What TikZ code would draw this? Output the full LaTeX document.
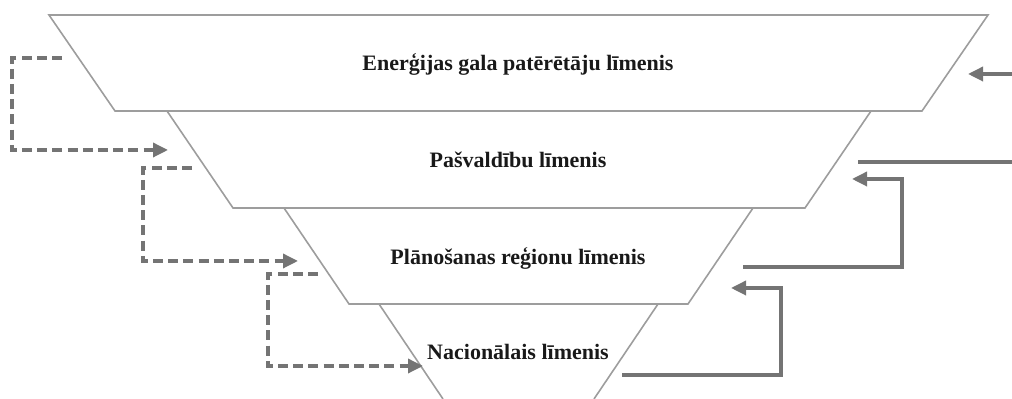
\documentclass[tikz,border=0pt]{standalone}
\usepackage{fontspec}
\setmainfont{Liberation Serif}
\usepackage{tikz}
\usetikzlibrary{arrows.meta}

\definecolor{layergray}{HTML}{9D9D9D}
\definecolor{flowgray}{HTML}{747474}

\begin{document}
\begin{tikzpicture}[x=0.5pt, y=-0.5pt,
  layer/.style={draw=layergray, line width=.8pt},
  %
  levelname/.style={font=\fontsize{11}{13}\selectfont\bfseries,
    text=black!90, anchor=base, inner sep=0pt},
  %
  flowline/.style={draw=flowgray, line width=1.7pt},
  %
  upflow/.style={flowline, -{Triangle[length=7.5pt, width=7pt]}},
  %
  downflow/.style={upflow, dash pattern=on 5pt off 2.6pt}
  ]

  \useasboundingbox (0,0) rectangle (1012,399);

  \begin{scope}
    %%%%%%%%%%%%%%%%%%%%%%%%%%%%%%%
    \draw [layer] (49,15) -- (988,15) -- (922,111) -- (115,111) -- cycle;
    \draw [layer] (167,111) -- (871,111) -- (805,208) -- (233,208) -- cycle;
    \draw [layer] (284,208) -- (753,208) -- (688,304) -- (349,304) -- cycle;
    \draw [layer] (443,399) -- (379,304) -- (658,304) -- (594,399);
    %%%%%%%%%%%%%%%%%%%%%%%%%%%%%%%
    \node [levelname] (gala) at (518,71) {Enerģijas gala patērētāju līmenis};
    \node [levelname] (pasv) at (518,168) {Pašvaldību līmenis};
    \node [levelname] (plan) at (518,265) {Plānošanas reģionu līmenis};
    \node [levelname] (nac) at (518,360) {Nacionālais līmenis};
  \end{scope}

  \begin{scope}
    % left side, downwards
    \coordinate (galaOut) at (62,58);
    \coordinate (galaTurn) at (12,150);
    \coordinate (pasvIn) at (168,150);
    \coordinate (pasvOut) at (192,168);
    \coordinate (pasvTurn) at (143,261);
    \coordinate (planIn) at (298,261);
    \coordinate (planOut) at (318,274);
    \coordinate (planTurn) at (268,366);
    \coordinate (nacIn) at (423,366);
    \draw [downflow] (galaOut) -| (galaTurn) -- (pasvIn);
    \draw [downflow] (pasvOut) -| (pasvTurn) -- (planIn);
    \draw [downflow] (planOut) -| (planTurn) -- (nacIn);
    % right side, upwards
    \coordinate (edgeIn) at (1012,74);
    \coordinate (galaBack) at (968,74);
    \coordinate (pasvUp) at (858,162);
    \coordinate (edgeOut) at (1012,162);
    \coordinate (planUp) at (743,267);
    \coordinate (planRise) at (902,179);
    \coordinate (pasvBack) at (852,179);
    \coordinate (nacUp) at (622,375);
    \coordinate (nacRise) at (781,288);
    \coordinate (planBack) at (731,288);
    \draw [upflow] (edgeIn) -- (galaBack);
    \draw [flowline] (pasvUp) -- (edgeOut);
    \draw [upflow] (planUp) -| (planRise) -- (pasvBack);
    \draw [upflow] (nacUp) -| (nacRise) -- (planBack);
  \end{scope}

\end{tikzpicture}
\end{document}
